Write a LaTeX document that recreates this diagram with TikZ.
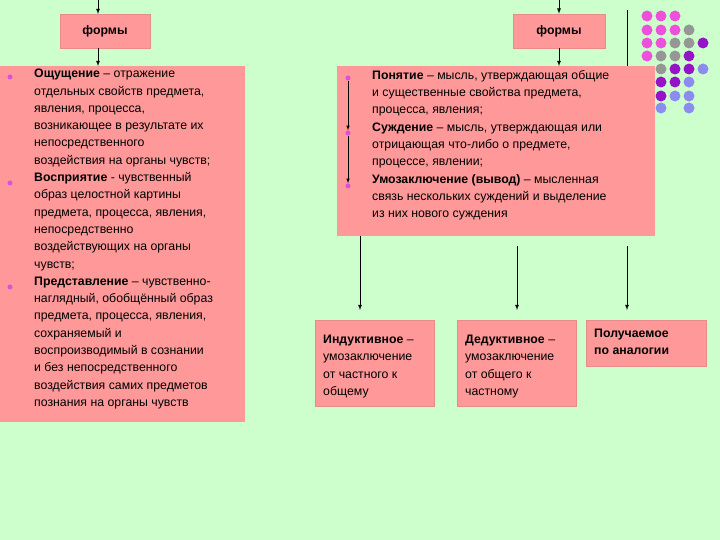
\documentclass[tikz,border=0pt]{standalone}
\usepackage{fontspec}
\setmainfont{Liberation Sans}
\begin{document}
\begin{tikzpicture}[x=1pt,y=-1pt,
 box/.style={fill=pink1,draw=pinkd,line width=0.6pt},
 arr/.style={-latex,line width=0.8pt},
 txt/.style={anchor=north west,align=left,inner sep=0,font=\fontsize{12.3}{17.3}\selectfont},
 bul/.style={circle,fill=bulc,inner sep=0,minimum size=5pt},
 dot/.style={circle,inner sep=0,minimum size=11pt}]
\definecolor{bg}{RGB}{204,255,204}
\definecolor{pink1}{RGB}{255,153,153}
\definecolor{pinkd}{RGB}{230,140,140}
\definecolor{bulc}{RGB}{220,80,220}
\definecolor{dp}{RGB}{238,80,220}
\definecolor{dg}{RGB}{150,150,150}
\definecolor{du}{RGB}{150,20,200}
\definecolor{dl}{RGB}{140,140,240}
\fill[bg] (0,0) rectangle (720,540);
\useasboundingbox (0,0) rectangle (720,540);
% dots
\foreach \c/\x/\y in {dp/647/16,dp/661/16,dp/675/16,
 dp/647/30,dp/661/30,dp/675/30,dg/689/30,
 dp/647/43,dp/661/43,dg/675/43,dg/689/43,du/703/43,
 dp/647/56,dg/661/56,dg/675/56,du/689/56,
 dg/661/69,du/675/69,du/689/69,dl/703/69,
 du/661/82,du/675/82,dl/689/82,
 du/661/96,dl/675/96,dl/689/96,
 dl/661/108,dl/689/108}
 \node[dot,fill=\c] at (\x,\y) {};
% top boxes
\node[box,minimum width=90pt,minimum height=34pt,font=\bfseries\fontsize{12.3}{14}\selectfont] (f1) at (105,31) {формы};
\node[box,minimum width=92pt,minimum height=34pt,font=\bfseries\fontsize{12.3}{14}\selectfont] (f2) at (559,31) {формы};
\coordinate (t1) at (98,0); \coordinate (t2) at (559,0);
\draw[arr] (t1) -- (98,14);
\draw[arr] (t2) -- (f2.north);
\coordinate (vl1) at (627,10); \coordinate (vl2) at (627,66);
\draw[line width=0.8pt] (vl1) -- (vl2);
% left big box
\node[box,draw=none,anchor=north west,minimum width=245pt,minimum height=356pt,inner sep=0] (L) at (0,66) {};
\draw[arr] (98,48) -- (98,66);
\node[bul] (lb1) at (10,77) {};
\node[bul] (lb2) at (10,183) {};
\node[bul] (lb3) at (10,287) {};
\node[txt] (lt) at (34,69) {\textbf{Ощущение} – отражение\\отдельных свойств предмета,\\явления, процесса,\\возникающее в результате их\\непосредственного\\воздействия на органы чувств;\\\textbf{Восприятие} - чувственный\\образ целостной картины\\предмета, процесса, явления,\\непосредственно\\воздействующих на органы\\чувств;\\\textbf{Представление} – чувственно-\\наглядный, обобщённый образ\\предмета, процесса, явления,\\сохраняемый и\\воспроизводимый в сознании\\и без непосредственного\\воздействия самих предметов\\познания на органы чувств};
% right big box
\node[box,draw=none,anchor=north west,minimum width=318pt,minimum height=170pt,inner sep=0] (R) at (337,66) {};
\draw[arr] (f2.south) -- (559,66);
\node[bul] (rb1) at (348,78) {};
\node[bul] (rb2) at (348,133) {};
\node[bul] (rb3) at (348,186) {};
\draw[-latex,line width=0.6pt] (rb1) -- (rb2);
\draw[-latex,line width=0.6pt] (rb2) -- (rb3);
\node[txt] (rt) at (372,70) {\textbf{Понятие} – мысль, утверждающая общие\\и существенные свойства предмета,\\процесса, явления;\\\textbf{Суждение} – мысль, утверждающая или\\отрицающая что-либо о предмете,\\процессе, явлении;\\\textbf{Умозаключение (вывод)} – мысленная\\связь нескольких суждений и выделение\\из них нового суждения};
% bottom boxes
\node[box,anchor=north west,minimum width=119pt,minimum height=86pt,inner sep=0] (b1) at (315,320) {};
\node[txt] at (323,335) {\textbf{Индуктивное} –\\умозаключение\\от частного к\\общему};
\node[box,anchor=north west,minimum width=119pt,minimum height=86pt,inner sep=0] (b2) at (457,320) {};
\node[txt] at (465,335) {\textbf{Дедуктивное} –\\умозаключение\\от общего к\\частному};
\node[box,anchor=north west,minimum width=120pt,minimum height=46pt,inner sep=0] (b3) at (586,320) {};
\node[txt,font=\bfseries\fontsize{12.3}{17.3}\selectfont] at (594,329) {Получаемое\\по аналогии};
\coordinate (a1) at (360,236); \coordinate (a2) at (517,246); \coordinate (a3) at (627,246);
\draw[arr] (a1) -- (360,310);
\draw[arr] (a2) -- (517,310);
\draw[arr] (a3) -- (627,310);
\end{tikzpicture}
\end{document}
